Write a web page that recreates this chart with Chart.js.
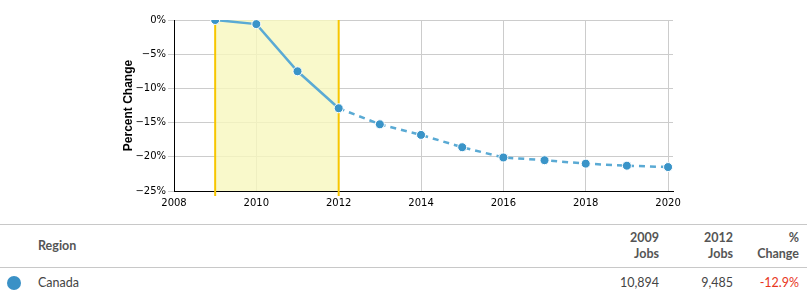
<!DOCTYPE html>
<html>
<head>
<meta charset="utf-8">
<script src="https://cdn.jsdelivr.net/npm/chart.js@4/dist/chart.umd.min.js"></script>
<style>
  body { margin: 0; background: #fff; width: 807px; height: 297px; overflow: hidden; }
  #wrap { position: relative; width: 807px; height: 215px; }
  table { position: absolute; top: 224px; left: 0; width: 807px; border-collapse: collapse; table-layout: fixed;
          font-family: Lato, "Open Sans", sans-serif; font-size: 12.5px; color: #444; }
  th { font-weight: bold; color: #555; text-align: right; vertical-align: middle; padding: 0 8px 0 0; line-height: 16px; }
  thead tr { height: 43px; border-top: 1px solid #c8c8c8; border-bottom: 1px solid #c8c8c8; }
  td { height: 28px; text-align: right; padding: 0 8px 0 0; }
  .dot { display: inline-block; width: 14px; height: 14px; border-radius: 50%; background: #3a91c6; vertical-align: middle; }
  .neg { color: #e8361c; }
</style>
</head>
<body>
<div id="wrap"><canvas id="chart" width="807" height="215"></canvas></div>
<table>
  <thead>
    <tr>
      <th style="width:38px;padding:0"></th>
      <th style="text-align:left">Region</th>
      <th style="width:70px">2009<br>Jobs</th>
      <th style="width:66px">2012<br>Jobs</th>
      <th style="width:58px">%<br>Change</th>
    </tr>
  </thead>
  <tbody>
    <tr>
      <td style="text-align:left;padding:0 0 0 7px"><span class="dot"></span></td>
      <td style="text-align:left">Canada</td>
      <td>10,894</td>
      <td>9,485</td>
      <td class="neg">-12.9%</td>
    </tr>
  </tbody>
</table>
<script>
// years and percent change for Canada
const years = [2009, 2010, 2011, 2012, 2013, 2014, 2015, 2016, 2017, 2018, 2019, 2020];
const pctChange = [0, -0.6, -7.5, -12.9, -15.25, -16.8, -18.6, -20.1, -20.5, -21.0, -21.3, -21.5];
const xTicks = [2008, 2010, 2012, 2014, 2016, 2018, 2020];
const yTicks = [0, -5, -10, -15, -20, -25];
const bandStart = 2009;
const bandEnd = 2012;

// yellow highlighted period with gold edges
const bandPlugin = {
  id: 'band',
  beforeDatasetsDraw(chart) {
    const { ctx, chartArea, scales } = chart;
    const x1 = scales.x.getPixelForValue(bandStart);
    const x2 = scales.x.getPixelForValue(bandEnd);
    ctx.save();
    ctx.fillStyle = 'rgba(248,248,190,0.8)';
    ctx.fillRect(x1, chartArea.top, x2 - x1, chartArea.bottom - chartArea.top);
    ctx.strokeStyle = '#f7c600';
    ctx.lineWidth = 2;
    [x1, x2].forEach(x => {
      ctx.beginPath();
      ctx.moveTo(x, chartArea.top);
      ctx.lineTo(x, chartArea.bottom + 5);
      ctx.stroke();
    });
    ctx.restore();
  }
};

new Chart(document.getElementById('chart'), {
  type: 'line',
  data: {
    datasets: [{
      data: years.map((y, i) => ({ x: y, y: pctChange[i] })),
      borderColor: '#5aaad4',
      borderWidth: 2.5,
      pointBackgroundColor: '#3a94c8',
      pointBorderColor: '#ffffff',
      pointBorderWidth: 1,
      pointRadius: 4.5,
      tension: 0,
      segment: {
        borderDash: c => c.p0.parsed.x >= bandEnd ? [6, 5] : undefined
      }
    }]
  },
  options: {
    responsive: false,
    animation: false,
    layout: { padding: { left: 121, right: 134, top: 20, bottom: 0 } },
    plugins: { legend: { display: false }, tooltip: { enabled: false } },
    scales: {
      x: {
        type: 'linear',
        min: 2008,
        max: 2020.12,
        afterBuildTicks: s => { s.ticks = xTicks.map(v => ({ value: v })); },
        grid: { color: '#cccccc', drawTicks: false },
        border: { color: '#000000' },
        ticks: { color: '#000', padding: 6, font: { family: 'DejaVu Sans', size: 10 }, callback: v => String(v) }
      },
      y: {
        min: -25,
        max: 0,
        afterBuildTicks: s => { s.ticks = yTicks.map(v => ({ value: v })); },
        afterFit: s => { s.width = 53; },
        grid: { color: '#cccccc', tickLength: 6, tickColor: '#cccccc' },
        border: { color: '#000000' },
        ticks: { color: '#000', padding: 2, font: { family: 'DejaVu Sans', size: 10 },
                 callback: v => (v < 0 ? '\u2212' + Math.abs(v) : v) + '%' },
        title: { display: true, text: 'Percent Change', color: '#000', padding: 0,
                 font: { family: 'Liberation Sans', size: 12, weight: 'bold' } }
      }
    }
  },
  plugins: [bandPlugin]
});
</script>
</body>
</html>
